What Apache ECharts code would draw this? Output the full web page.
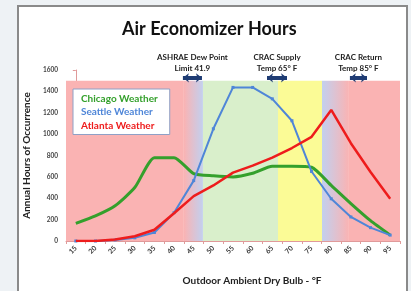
<!DOCTYPE html>
<html>
<head>
<meta charset="utf-8">
<script src="https://cdn.jsdelivr.net/npm/echarts@6/dist/echarts.min.js"></script>
<style>
  html, body { margin: 0; padding: 0; background: #eef2f5; }
  #chart { width: 411px; height: 291px; }
</style>
</head>
<body>
<div id="chart"></div>
<script>
// outdoor dry bulb bins (°F)
const temps = ["15", "20", "25", "30", "35", "40", "45", "50", "55", "60", "65", "70", "75", "80", "85", "90", "95"];
const chicago = [165, 235, 330, 500, 780, 780, 630, 610, 600, 634, 700, 700, 690, 520, 350, 190, 55];
const seattle = [0, 0, 10, 30, 80, 265, 565, 1050, 1437, 1437, 1330, 1125, 650, 395, 225, 125, 55];
const atlanta = [0, 0, 15, 45, 105, 260, 420, 520, 640, 705, 780, 870, 975, 1226, 915, 645, 395];
const yTicks = [0, 200, 400, 600, 800, 1000, 1200, 1400, 1600];

// background zones, in bin-index units: [from, to, colour or gradient stops]
const pink = "#fab3b3", blue = "#c2d0ef", green = "#d9efcb", yellow = "#fbfb96";
const zoneTop = 1500;
const zones = [
  [-0.5, 5.5, pink],
  [5.5, 6.47, [pink, blue]],
  [6.47, 10.29, green],
  [10.29, 12.53, yellow],
  [12.53, 13.9, [blue, pink]],
  [13.9, 16.5, pink]
];
// limits marked with a double arrow: [from, to, label]
const limits = [
  [5.45, 6.42, "ASHRAE Dew Point\nLimit 41.9"],
  [9.73, 10.75, "CRAC Supply\nTemp 65° F"],
  [13.95, 14.82, "CRAC Return\nTemp 85° F"]
];
const arrowLevel = 1527;

const font = "Lato";
const chart = echarts.init(document.getElementById("chart"));

function zoneColor(c) {
  if (typeof c === "string") return c;
  return new echarts.graphic.LinearGradient(0, 0, 1, 0, [
    { offset: 0, color: c[0] },
    { offset: 1, color: c[1] }
  ]);
}

chart.setOption({
  animation: false,
  graphic: [
    {
      type: "rect",
      z: -10,
      shape: { x: 18, y: 6, width: 389, height: 300 },
      style: { fill: "#fff", stroke: "#8a8a8a", lineWidth: 2 }
    },
    {
      type: "text",
      left: 122,
      top: 20,
      style: {
        text: "Air Economizer Hours",
        fontFamily: font,
        fontWeight: "bold",
        fontSize: 18,
        fill: "#111"
      }
    }
  ],
  legend: {
    orient: "vertical",
    left: 73,
    top: 89,
    icon: "none",
    itemWidth: 0,
    itemHeight: 11,
    itemGap: 3,
    padding: [4, 12, 4, 3],
    backgroundColor: "#fff",
    borderColor: "#8fa0c6",
    borderWidth: 1,
    selectedMode: false,
    textStyle: { fontFamily: font, fontWeight: "bold", fontSize: 10 },
    data: [
      { name: "Chicago Weather", textStyle: { color: "#34a02c" } },
      { name: "Seattle Weather", textStyle: { color: "#4f86d8" } },
      { name: "Atlanta Weather", textStyle: { color: "#ee1c1c" } }
    ]
  },
  grid: { left: 66, right: 11, top: 70, bottom: 42 },
  xAxis: [
    {
      type: "category",
      data: temps,
      boundaryGap: true,
      name: "Outdoor Ambient Dry Bulb - °F",
      nameLocation: "middle",
      nameGap: 35,
      nameTextStyle: {
        fontFamily: font, fontWeight: "bold", fontSize: 10, color: "#222",
        padding: [0, 0, 0, 38]
      },
      axisLine: { lineStyle: { color: "#e09a9a" } },
      axisTick: { show: true, length: 3, lineStyle: { color: "#e09a9a" } },
      axisLabel: {
        rotate: 45, fontSize: 7, fontFamily: font, fontWeight: "bold",
        color: "#333", margin: 6
      }
    },
    { type: "value", min: -0.5, max: 16.5, show: false }
  ],
  yAxis: {
    type: "value",
    min: 0,
    max: 1600,
    interval: 200,
    name: "Annual Hours of Occurrence",
    nameLocation: "middle",
    nameGap: 27,
    nameRotate: 90,
    nameTextStyle: { fontFamily: font, fontWeight: "bold", fontSize: 10, color: "#222" },
    axisLine: { show: true, lineStyle: { color: "#e09a9a" } },
    axisTick: { show: true, length: 3, lineStyle: { color: "#e09a9a" } },
    splitLine: { show: false },
    axisLabel: {
      fontSize: 6.5, fontFamily: font, fontWeight: "bold", color: "#444", margin: 8,
      formatter: v => (yTicks.indexOf(v) >= 0 ? String(v) : "")
    }
  },
  series: [
    {
      type: "line",
      xAxisIndex: 1,
      data: [],
      z: 1,
      silent: true,
      markArea: {
        silent: true,
        data: zones.map(z => [
          { xAxis: z[0], yAxis: 0, itemStyle: { color: zoneColor(z[2]), opacity: 1 } },
          { xAxis: z[1], yAxis: zoneTop }
        ])
      },
      markLine: {
        silent: true,
        symbol: ["arrow", "arrow"],
        symbolSize: [7, 6],
        lineStyle: { color: "#1f3c74", width: 4, type: "solid" },
        label: {
          position: "middle",
          distance: 4,
          fontFamily: font,
          fontWeight: "bold",
          fontSize: 8,
          lineHeight: 11,
          color: "#222"
        },
        data: limits.map(l => [
          { coord: [l[0], arrowLevel], label: { formatter: l[2] } },
          { coord: [l[1], arrowLevel] }
        ])
      }
    },
    {
      name: "Chicago Weather",
      type: "line",
      data: chicago,
      z: 3,
      smooth: 0.2,
      symbol: "none",
      lineStyle: { color: "#34a02c", width: 3 },
      itemStyle: { color: "#34a02c" }
    },
    {
      name: "Seattle Weather",
      type: "line",
      data: seattle,
      z: 4,
      symbol: "rect",
      symbolSize: 3,
      lineStyle: { color: "#4f86d8", width: 2 },
      itemStyle: { color: "#4f86d8" }
    },
    {
      name: "Atlanta Weather",
      type: "line",
      data: atlanta,
      z: 5,
      smooth: false,
      symbol: "none",
      lineStyle: { color: "#ee1c1c", width: 2.5 },
      itemStyle: { color: "#ee1c1c" }
    }
  ]
});
</script>
</body>
</html>
